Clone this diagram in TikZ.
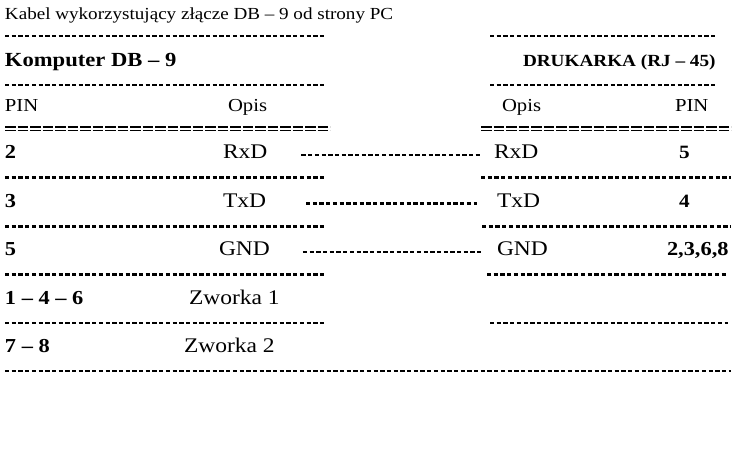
\documentclass[tikz,border=0pt]{standalone}
\usepackage{fontspec}
\setmainfont{Liberation Serif}[FakeStretch=1.13]
\begin{document}
\begin{tikzpicture}[x=1pt,y=-1pt,
  every node/.style={inner sep=0pt, outer sep=0pt, anchor=base west, text=black},
  ttl/.style={font=\fontsize{16.9}{20}\selectfont},
  hdbig/.style={font=\bfseries\fontsize{20}{24}\selectfont},
  hdsmall/.style={font=\bfseries\fontsize{17}{20}\selectfont},
  colh/.style={font=\fontsize{18.3}{22}\selectfont},
  sig/.style={font=\fontsize{20.8}{24}\selectfont},
  pinnum/.style={font=\bfseries\fontsize{19.8}{23}\selectfont},
  pinsmall/.style={font=\bfseries\fontsize{18.8}{22}\selectfont},
  sep/.style={line width=2.4pt, dash pattern=on 4.3pt off 2.4pt},
  eqbar/.style={line width=1.1pt, dash pattern=on 10.5pt off 2pt},
  conn/.style={sep}]
\useasboundingbox (0,0) rectangle (744,474);
\fill[white] (0,0) rectangle (744,474);

% header texts
\node[ttl] (title) at (5,19.5) {Kabel wykorzystujący złącze DB – 9 od strony PC};
\node[hdbig] (pc) at (5,66) {Komputer DB – 9};
\node[hdsmall] (prn) at (523,66.5) {DRUKARKA (RJ – 45)};
\node[colh] (pinL) at (5,111) {PIN};
\node[colh] (opisL) at (228,111) {Opis};
\node[colh] (opisR) at (502,111) {Opis};
\node[colh] (pinR) at (675,111) {PIN};

% rows
\node[pinnum] (p2) at (5,158.5) {2};
\node[sig] (lRx) at (223,158.5) {RxD};
\node[sig] (rRx) at (494,158.5) {RxD};
\node[pinsmall] (q5) at (679,158.5) {5};

\node[pinnum] (p3) at (5,207) {3};
\node[sig] (lTx) at (223,207) {TxD};
\node[sig] (rTx) at (497,207) {TxD};
\node[pinsmall] (q4) at (679,207) {4};

\node[pinnum] (p5) at (5,255.5) {5};
\node[sig] (lGnd) at (219,255.5) {GND};
\node[sig] (rGnd) at (497,255.5) {GND};
\node[pinnum] (q2368) at (667,255.5) {2,3,6,8};

\node[pinnum] (p146) at (5,304) {1 – 4 – 6};
\node[sig] (zw1) at (189,304) {Zworka 1};

\node[pinnum] (p78) at (5,352.5) {7 – 8};
\node[sig] (zw2) at (184,352.5) {Zworka 2};

% separator lines
\draw[sep] (5,35.7) -- (325,35.7);
\draw[sep] (490,35.7) -- (717,35.7);
\draw[sep] (5,85) -- (325,85);
\draw[sep] (490,85) -- (717,85);
\draw[eqbar] (5,127) -- (330,127);
\draw[eqbar] (5,130.6) -- (330,130.6);
\draw[eqbar] (481,127) -- (731,127);
\draw[eqbar] (481,130.6) -- (731,130.6);
\draw[sep] (5,177.5) -- (325,177.5);
\draw[sep] (481,177.5) -- (731,177.5);
\draw[sep] (5,226.5) -- (325,226.5);
\draw[sep] (482,226.5) -- (731,226.5);
\draw[sep] (5,274.5) -- (325,274.5);
\draw[sep] (487,274.5) -- (728,274.5);
\draw[sep] (5,323) -- (325,323);
\draw[sep] (490,323) -- (728,323);
\draw[sep] (5,371) -- (731,371);

% connectors
\draw[conn, shorten <=34pt, shorten >=14pt] ([yshift=3.5pt]lRx.base east) -- ([yshift=3.5pt]rRx.base west);
\draw[conn, shorten <=40pt, shorten >=20pt] ([yshift=3.5pt]lTx.base east) -- ([yshift=3.5pt]rTx.base west);
\draw[conn, shorten <=33pt, shorten >=16pt] ([yshift=3.5pt]lGnd.base east) -- ([yshift=3.5pt]rGnd.base west);
\end{tikzpicture}
\end{document}
